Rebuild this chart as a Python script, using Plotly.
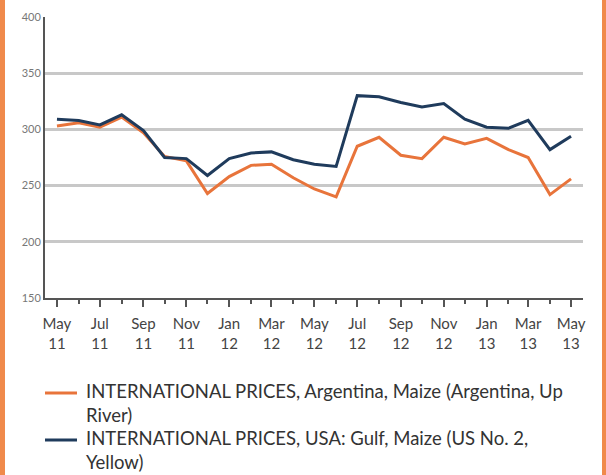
import plotly.graph_objects as go

months = ["2011-05-01", "2011-06-01", "2011-07-01", "2011-08-01", "2011-09-01",
          "2011-10-01", "2011-11-01", "2011-12-01", "2012-01-01", "2012-02-01",
          "2012-03-01", "2012-04-01", "2012-05-01", "2012-06-01", "2012-07-01",
          "2012-08-01", "2012-09-01", "2012-10-01", "2012-11-01", "2012-12-01",
          "2013-01-01", "2013-02-01", "2013-03-01", "2013-04-01", "2013-05-01"]

argentina = [303, 306, 302, 311, 297, 276, 272, 243, 258, 268, 269, 257, 247,
             240, 285, 293, 277, 274, 293, 287, 292, 282, 275, 242, 256]
usa_gulf = [309, 308, 304, 313, 299, 275, 274, 259, 274, 279, 280, 273, 269,
            267, 330, 329, 324, 320, 323, 309, 302, 301, 308, 282, 294]

name_arg = "INTERNATIONAL PRICES, Argentina, Maize (Argentina, Up<br>River)"
name_usa = "INTERNATIONAL PRICES, USA: Gulf, Maize (US No. 2,<br>Yellow)"

orange = "#E8743B"
navy = "#1F3B5C"

fig = go.Figure()
fig.add_trace(go.Scatter(x=months, y=argentina, mode="lines", name=name_arg,
                         line=dict(color=orange, width=3)))
fig.add_trace(go.Scatter(x=months, y=usa_gulf, mode="lines", name=name_usa,
                         line=dict(color=navy, width=3)))

# plot area is 538 x 281 px, starting at (45, 17)
def px(x):
    return (x - 45) / 538

def py(y):
    return (298 - y) / 281

# orange frame strips at the left and right edges
for x0, x1 in [(0, 5), (602, 606)]:
    fig.add_shape(type="rect", xref="paper", yref="paper", x0=px(x0), x1=px(x1),
                  y0=-2, y1=2, fillcolor="#F08A4B", line_width=0, layer="below")

# legend drawn by hand below the chart
for name, color, ytop, yline in [(name_arg, orange, 378, 393),
                                  (name_usa, navy, 425, 440)]:
    fig.add_shape(type="line", xref="paper", yref="paper",
                  x0=px(45), x1=px(77), y0=py(yline), y1=py(yline),
                  line=dict(color=color, width=3))
    fig.add_annotation(text=name, xref="paper", yref="paper",
                       x=px(84), y=py(ytop), xanchor="left", yanchor="top",
                       align="left", showarrow=False,
                       font=dict(size=18.5, color="#333"))

fig.update_layout(
    width=606, height=475,
    margin=dict(l=45, r=23, t=17, b=177),
    paper_bgcolor="white", plot_bgcolor="white",
    font=dict(family="Lato", color="#444"),
    showlegend=False,
    xaxis=dict(type="date", range=["2011-04-14", "2013-05-18"],
               dtick="M2", tick0="2011-05-01", tickformat="%b<br>%y",
               automargin=False,
               showgrid=False, showline=True, linecolor="#555", linewidth=2,
               ticks="outside", ticklen=7, tickwidth=2, tickcolor="#555",
               ticklabelstandoff=4,
               minor=dict(dtick="M1", ticks="outside", ticklen=4,
                          tickwidth=2, tickcolor="#555"),
               tickfont=dict(size=15, color="#444")),
    yaxis=dict(range=[150, 400], dtick=50, showgrid=True, gridcolor="#C8C8C8",
               automargin=False,
               gridwidth=2.5, showline=True, linecolor="#555", linewidth=2,
               zeroline=False, ticks="", tickfont=dict(size=11, color="#777")),
)

fig.write_html("out.html", config={"displayModeBar": False},
               post_script="document.body.style.margin = '0';")
